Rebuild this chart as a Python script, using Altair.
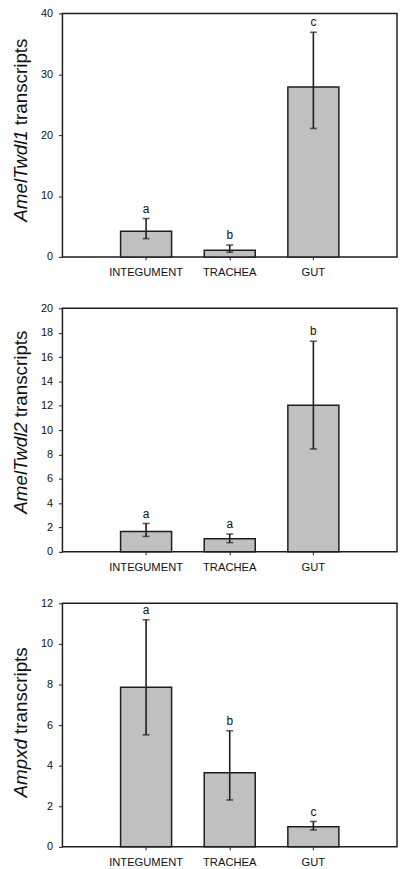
import altair as alt
import pandas as pd

FONT = "Liberation Sans"

tissues = ["INTEGUMENT", "TRACHEA", "GUT"]

# Panel 1: AmelTwdl1
p1_mean = [4.2, 1.1, 27.9]
p1_lo = [3.0, 0.76, 21.1]
p1_hi = [6.3, 1.95, 36.9]
p1_letters = ["a", "b", "c"]

# Panel 2: AmelTwdl2
p2_mean = [1.68, 1.08, 12.05]
p2_lo = [1.27, 0.76, 8.45]
p2_hi = [2.33, 1.46, 17.3]
p2_letters = ["a", "a", "b"]

# Panel 3: Ampxd
p3_mean = [7.87, 3.65, 0.99]
p3_lo = [5.52, 2.31, 0.83]
p3_hi = [11.19, 5.72, 1.25]
p3_letters = ["a", "b", "c"]

INK = "#1e1e1e"


def panel(mean, lo, hi, letters, ymax, ystep, gene, italic_top, regular_start):
    df = pd.DataFrame({"tissue": tissues, "mean": mean, "lo": lo, "hi": hi, "letter": letters})
    xscale = alt.Scale(paddingInner=0.39, paddingOuter=0.695)
    xaxis = alt.Axis(labelAngle=0, domain=False, grid=False, tickSize=3, tickColor=INK,
                     tickWidth=1, labelFontSize=11.3, labelPadding=7, labelFont=FONT,
                     labelColor="#111", labelOverlap=False)
    x = alt.X("tissue:N", sort=tissues, title=None, scale=xscale, axis=xaxis)
    yscale = alt.Scale(domain=[0, ymax], nice=False, zero=True)
    yaxis = alt.Axis(values=list(range(0, ymax + 1, ystep)), title=None, grid=False,
                     domain=False, tickSize=4, tickColor=INK, tickWidth=1,
                     labelPadding=6, labelFontSize=11, labelFont=FONT, labelColor="#111",
                     labelOverlap=False)

    def Y(field):
        return alt.Y(field, scale=yscale, axis=yaxis, title=None)

    base = alt.Chart(df)
    bars = base.mark_bar(fill="#c0c0c0", stroke=INK, strokeWidth=1.5).encode(
        x=x, y=Y("mean:Q"))
    rule = base.mark_rule(color=INK, strokeWidth=1.6).encode(
        x=x, y=Y("lo:Q"), y2="hi:Q")
    cap_hi = base.mark_tick(color=INK, thickness=1.6, size=7).encode(x=x, y=Y("hi:Q"))
    cap_lo = base.mark_tick(color=INK, thickness=1.6, size=7).encode(x=x, y=Y("lo:Q"))
    text = base.mark_text(baseline="bottom", dy=-3, fontSize=12, font=FONT, color="#111").encode(
        x=x, y=Y("hi:Q"), text="letter:N")
    t_it = alt.Chart(pd.DataFrame({"t": [gene]})).mark_text(
        angle=270, align="right", baseline="alphabetic", fontSize=19, fontStyle="italic",
        font=FONT, color="#111").encode(text="t:N", x=alt.value(-36), y=alt.value(italic_top))
    t_reg = alt.Chart(pd.DataFrame({"t": ["transcripts"]})).mark_text(
        angle=270, align="left", baseline="alphabetic", fontSize=19,
        font=FONT, color="#111").encode(text="t:N", x=alt.value(-36), y=alt.value(regular_start))
    return alt.layer(bars, rule, cap_lo, cap_hi, text, t_it, t_reg).properties(width=338, height=246)


c1 = panel(p1_mean, p1_lo, p1_hi, p1_letters, 40, 10, "AmelTwdl1", 118, 113)
c2 = panel(p2_mean, p2_lo, p2_hi, p2_letters, 20, 2, "AmelTwdl2", 115, 110)
c3 = panel(p3_mean, p3_lo, p3_hi, p3_letters, 12, 2, "Ampxd", 137, 132)

chart = alt.vconcat(c1, c2, c3, spacing=22).configure_view(
    stroke=INK, strokeWidth=1.5
).properties(padding={"left": 3, "top": -6, "right": 0, "bottom": 0}, background="white")

chart.save("out.html", embed_options={"renderer": "svg", "actions": False})
